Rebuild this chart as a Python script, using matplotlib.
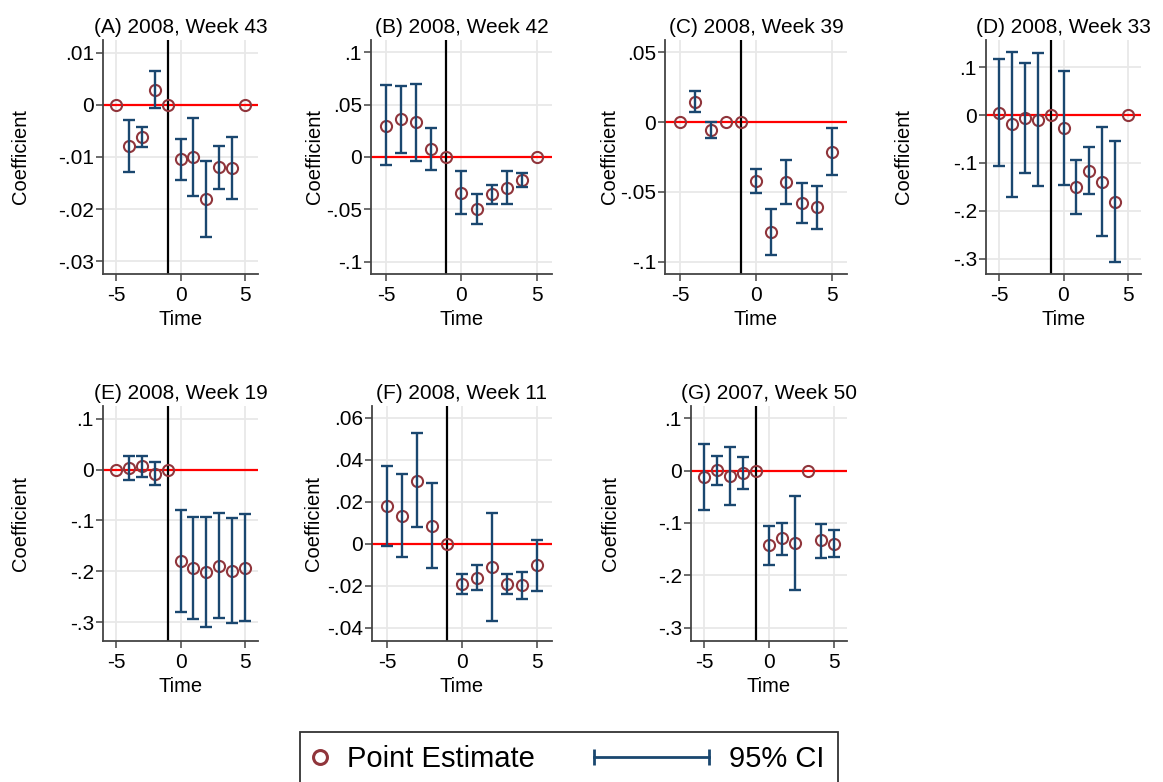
import matplotlib
matplotlib.use("Agg")
import matplotlib.pyplot as plt
from matplotlib.lines import Line2D
from matplotlib.legend_handler import HandlerLine2D
import numpy as np

plt.rcParams['font.family'] = ['Liberation Sans', 'DejaVu Sans']

time = [-5, -4, -3, -2, -1, 0, 1, 2, 3, 4, 5]

titles = ["(A) 2008, Week 43", "(B) 2008, Week 42", "(C) 2008, Week 39",
          "(D) 2008, Week 33", "(E) 2008, Week 19", "(F) 2008, Week 11",
          "(G) 2007, Week 50"]

# point estimates and 95% CI bounds (None = reference period, no CI)
est_A = [0, -0.0079, -0.0062, 0.0028, 0, -0.0104, -0.0100, -0.0180, -0.0120, -0.0122, 0]
lo_A = [None, -0.0128, -0.0081, -0.0007, None, -0.0144, -0.0175, -0.0254, -0.0161, -0.0180, None]
hi_A = [None, -0.0029, -0.0042, 0.0064, None, -0.0066, -0.0025, -0.0107, -0.0078, -0.0062, None]

est_B = [0.0299, 0.0363, 0.0330, 0.0076, 0, -0.0340, -0.0500, -0.0353, -0.0293, -0.0216, 0]
lo_B = [-0.0080, 0.0038, -0.0041, -0.0121, None, -0.0540, -0.0642, -0.0445, -0.0452, -0.0289, None]
hi_B = [0.0684, 0.0680, 0.0700, 0.0274, None, -0.0137, -0.0356, -0.0267, -0.0134, -0.0149, None]

est_C = [0, 0.0146, -0.0057, 0, 0, -0.0423, -0.0788, -0.0430, -0.0580, -0.0609, -0.0212]
lo_C = [None, 0.0069, -0.0115, None, None, -0.0511, -0.0955, -0.0590, -0.0726, -0.0764, -0.0382]
hi_C = [None, 0.0220, 0.0003, None, None, -0.0337, -0.0625, -0.0270, -0.0434, -0.0458, -0.0043]

est_D = [0.0049, -0.0195, -0.0070, -0.0098, 0, -0.0279, -0.1500, -0.1164, -0.1390, -0.1805, 0]
lo_D = [-0.1066, -0.1714, -0.1206, -0.1484, None, -0.1470, -0.2060, -0.1638, -0.2523, -0.3066, None]
hi_D = [0.1170, 0.1317, 0.1080, 0.1300, None, 0.0913, -0.0934, -0.0676, -0.0258, -0.0550, None]

est_E = [0, 0.0033, 0.0065, -0.0085, 0, -0.1800, -0.1928, -0.2020, -0.1890, -0.1987, -0.1928]
lo_E = [None, -0.0196, -0.0150, -0.0307, None, -0.2804, -0.2928, -0.3100, -0.2920, -0.3007, -0.2980]
hi_E = [None, 0.0268, 0.0268, 0.0150, None, -0.0804, -0.0928, -0.0928, -0.0850, -0.0960, -0.0876]

est_F = [0.0180, 0.0135, 0.0302, 0.0087, 0, -0.0192, -0.0160, -0.0110, -0.0190, -0.0194, -0.0102]
lo_F = [-0.0010, -0.0062, 0.0081, -0.0113, None, -0.0238, -0.0219, -0.0367, -0.0238, -0.0262, -0.0224]
hi_F = [0.0372, 0.0334, 0.0530, 0.0288, None, -0.0145, -0.0100, 0.0148, -0.0141, -0.0132, 0.0019]

est_G = [-0.0121, 0.0013, -0.0096, -0.0051, 0, -0.1427, -0.1293, -0.1376, 0, -0.1331, -0.1395]
lo_G = [-0.0752, -0.0274, -0.0650, -0.0350, None, -0.1796, -0.1605, -0.2287, None, -0.1660, -0.1656]
hi_G = [0.0497, 0.0280, 0.0452, 0.0255, None, -0.1057, -0.0994, -0.0490, None, -0.1019, -0.1134]

yticks_A = [0.01, 0, -0.01, -0.02, -0.03]
ylabels_A = [".01", "0", "-.01", "-.02", "-.03"]
yticks_B = [0.1, 0.05, 0, -0.05, -0.1]
ylabels_B = [".1", ".05", "0", "-.05", "-.1"]
yticks_C = [0.05, 0, -0.05, -0.1]
ylabels_C = [".05", "0", "-.05", "-.1"]
yticks_D = [0.1, 0, -0.1, -0.2, -0.3]
ylabels_D = [".1", "0", "-.1", "-.2", "-.3"]
yticks_E = [0.1, 0, -0.1, -0.2, -0.3]
ylabels_E = [".1", "0", "-.1", "-.2", "-.3"]
yticks_F = [0.06, 0.04, 0.02, 0, -0.02, -0.04]
ylabels_F = [".06", ".04", ".02", "0", "-.02", "-.04"]
yticks_G = [0.1, 0, -0.1, -0.2, -0.3]
ylabels_G = [".1", "0", "-.1", "-.2", "-.3"]

xticks = [-5, 0, 5]
event_time = -1

panels = [
    (est_A, lo_A, hi_A, yticks_A, ylabels_A, (-0.0324, 0.0124)),
    (est_B, lo_B, hi_B, yticks_B, ylabels_B, (-0.1118, 0.1118)),
    (est_C, lo_C, hi_C, yticks_C, ylabels_C, (-0.1088, 0.0588)),
    (est_D, lo_D, hi_D, yticks_D, ylabels_D, (-0.332, 0.157)),
    (est_E, lo_E, hi_E, yticks_E, ylabels_E, (-0.337, 0.125)),
    (est_F, lo_F, hi_F, yticks_F, ylabels_F, (-0.0462, 0.0657)),
    (est_G, lo_G, hi_G, yticks_G, ylabels_G, (-0.325, 0.123)),
]

# layout in pixels: axes left, right, top, bottom, and right edge of y label
W, H = 1163, 782
boxes = [
    (103, 258, 40, 274, 30), (371, 552, 40, 274, 324), (665, 847, 40, 274, 619),
    (986, 1141, 40, 274, 913),
    (103, 258, 406, 641, 30), (372, 552, 406, 641, 323), (691, 847, 406, 641, 620),
]

ci_color = '#1a476f'
pt_color = '#90353b'

fig = plt.figure(figsize=(W / 100, H / 100), dpi=100)

for (est, lo, hi, yt, yl, ylim), title, (l, r, t, b, labx) in zip(panels, titles, boxes):
    ax = fig.add_axes([l / W, 1 - b / H, (r - l) / W, (b - t) / H])
    ax.set_xlim(-6, 6)
    ax.set_ylim(*ylim)
    ax.set_axisbelow(True)
    ax.grid(True, color='#e8e8e8', linewidth=1.3)
    ax.axhline(0, color='#ff0000', linewidth=1.6, zorder=2)
    ax.axvline(event_time, color='black', linewidth=1.6, zorder=2)
    xs = np.array([x for x, a in zip(time, lo) if a is not None])
    los = np.array([a for a in lo if a is not None])
    his = np.array([a for a in hi if a is not None])
    ax.errorbar(xs, (los + his) / 2, yerr=(his - los) / 2, fmt='none',
                ecolor=ci_color, elinewidth=1.7, capsize=4, capthick=1.7, zorder=4)
    ax.plot(time, est, linestyle='none', marker='o', markersize=8,
            markerfacecolor='none', markeredgecolor=pt_color, markeredgewidth=1.5, zorder=3)
    ax.set_xticks(xticks)
    ax.set_xticklabels([str(v) for v in xticks])
    ax.set_yticks(yt)
    ax.set_yticklabels(yl)
    ax.tick_params(axis='both', labelsize=15, direction='out', length=5,
                   width=1.1, color='#444444')
    ax.tick_params(axis='x', pad=4)
    ax.tick_params(axis='y', pad=1.5)
    ax.set_xlabel("Time", fontsize=14.5, labelpad=3)
    ax.set_ylabel("Coefficient", fontsize=14.5)
    ax.yaxis.set_label_coords((labx - l) / (r - l), 0.5)
    ax.set_title(title, fontsize=15, pad=5)
    for s in ['top', 'right']:
        ax.spines[s].set_visible(False)
    for s in ['left', 'bottom']:
        ax.spines[s].set_color('#444444')
        ax.spines[s].set_linewidth(1.3)


class CIHandler(HandlerLine2D):
    """Horizontal capped line extending to the left of the handle box."""
    def __init__(self, length_pt, **kw):
        super().__init__(**kw)
        self.length_pt = length_pt

    def create_artists(self, legend, orig_handle, xdescent, ydescent, width, height,
                       fontsize, trans):
        y = (height - ydescent) / 2
        x1 = width - xdescent
        x0 = x1 - self.length_pt
        line = Line2D([x0, x1], [y, y], color=ci_color, linewidth=2)
        caps = Line2D([x0, x1], [y, y], linestyle='none', marker='|', markersize=11,
                      markeredgewidth=2, color=ci_color)
        line.set_transform(trans)
        caps.set_transform(trans)
        return [line, caps]


h1 = Line2D([], [], linestyle='none', marker='o', markersize=10, markerfacecolor='none',
            markeredgecolor=pt_color, markeredgewidth=2.2)
h2 = Line2D([], [], color=ci_color, linewidth=2)
leg = fig.legend([h1, h2], ["Point Estimate", "95% CI"], loc='upper left',
                 bbox_to_anchor=(300 / W, 1 - 732 / H), ncol=2, fontsize=21,
                 frameon=True, fancybox=False, edgecolor='black', borderpad=0.45,
                 handlelength=0.47, handletextpad=0.69, columnspacing=5.5,
                 borderaxespad=0,
                 handler_map={h1: HandlerLine2D(numpoints=1), h2: CIHandler(82.8)})
leg.get_frame().set_linewidth(1.3)

fig.savefig("out.png", dpi=100)
